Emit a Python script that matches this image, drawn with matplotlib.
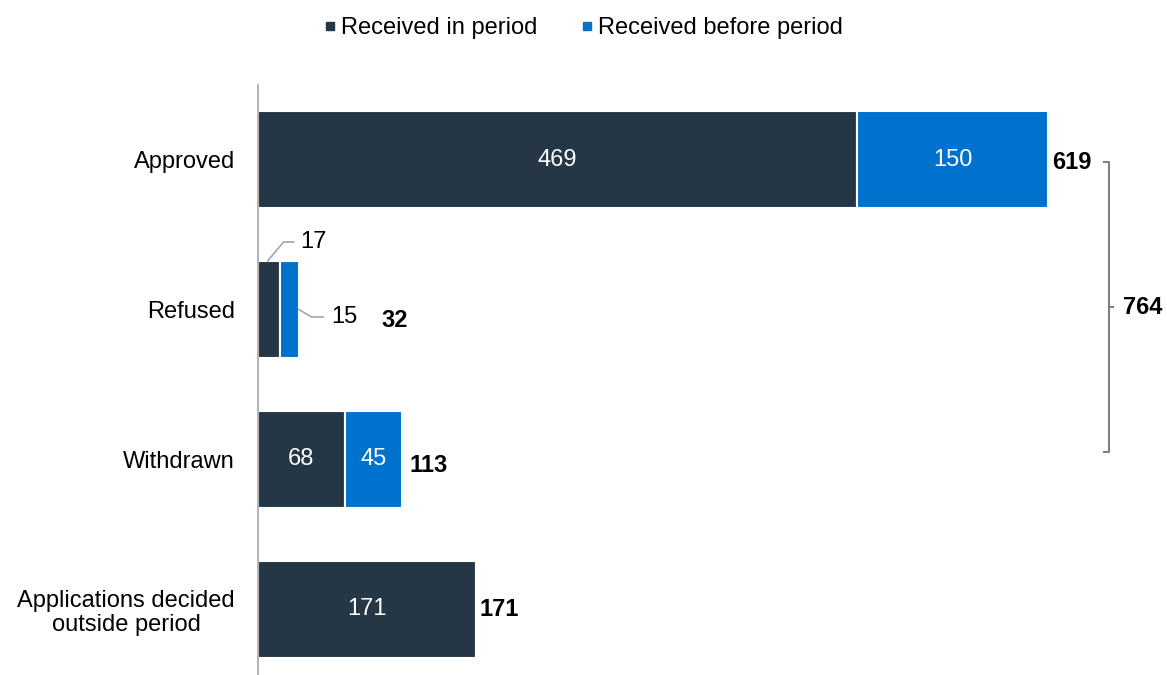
import matplotlib.pyplot as plt
from matplotlib.lines import Line2D
import numpy as np

plt.rcParams['font.family'] = ['Liberation Sans', 'DejaVu Sans']

categories = ["Approved", "Refused", "Withdrawn", "Applications decided\noutside period"]
in_period = [469, 17, 68, 171]
before_period = [150, 15, 45, 0]
totals = [619, 32, 113, 171]
decided_total = 764
series_names = ["Received in period", "Received before period"]

dark = "#253746"
blue = "#0072CE"
FS = 17

W, H = 1167, 675
fig = plt.figure(figsize=(W / 100, H / 100), dpi=100)
ax = fig.add_axes([258 / W, 0, 900 / W, (675 - 85) / H])

y = np.arange(len(categories))
bh = 0.65
ax.barh(y, in_period, height=bh, color=dark, edgecolor="white", linewidth=1.5)
ax.barh(y, before_period, left=in_period, height=bh, color=blue,
        edgecolor="white", linewidth=1.5)

ax.set_xlim(0, 900 / 1.277)
ax.set_ylim(3.437, -0.497)

for s in ["top", "right", "bottom"]:
    ax.spines[s].set_visible(False)
ax.spines["left"].set_color("#A6A6A6")
ax.spines["left"].set_linewidth(1.2)
ax.set_xticks([])
ax.set_yticks(y)
ax.set_yticklabels(categories, fontsize=FS, multialignment="center", linespacing=1.12)
ax.tick_params(axis="y", length=0, pad=16.5)

# values inside the wide segments
for i in range(len(categories)):
    a, b = in_period[i], before_period[i]
    if a >= 40:
        ax.text(a / 2, i, str(a), color="white", fontsize=FS, ha="center", va="center")
    if b >= 40:
        ax.text(a + b / 2, i, str(b), color="white", fontsize=FS, ha="center", va="center")

# leader-line labels for the narrow Refused segments
lc = "#A6A6A6"
ax.plot([in_period[1] * 0.45, 20, 28], [1 - bh / 2, 1 - 0.45, 1 - 0.45],
        color=lc, lw=1.2, clip_on=False)
ax.text(33, 1 - 0.45, str(in_period[1]), fontsize=FS, va="center", ha="left")
ax.plot([totals[1], totals[1] + 10, totals[1] + 19], [1.0, 1.05, 1.05],
        color=lc, lw=1.2, clip_on=False)
ax.text(totals[1] + 25, 1.05, str(before_period[1]), fontsize=FS, va="center", ha="left")

# totals
x_off = [3, 65, 5.5, 2.5]
y_off = [0.02, 0.07, 0.04, 0.0]
for i, t in enumerate(totals):
    ax.text(t + x_off[i], i + y_off[i], str(t), fontsize=FS,
            fontweight="bold", va="center", ha="left")

# bracket over the decided categories
bx = 666.5
top_y, bot_y = 0.017, 1.95
ax.plot([bx - 4, bx, bx, bx - 4], [top_y, top_y, bot_y, bot_y],
        color="#808080", lw=1.5, clip_on=False)
mid = (top_y + bot_y) / 2
ax.plot([bx, bx + 3], [mid, mid], color="#808080", lw=1.5, clip_on=False)
ax.text(bx + 11, mid, str(decided_total), fontsize=FS, fontweight="bold",
        va="center", ha="left")

handles = [Line2D([], [], marker="s", linestyle="", color=c, markersize=5.8)
           for c in (dark, blue)]
fig.legend(handles, series_names, loc="center", bbox_to_anchor=(584 / W, 1 - 28 / H),
           ncol=2, frameon=False, fontsize=FS, handlelength=0.4,
           handletextpad=0.25, columnspacing=1.9, borderaxespad=0, borderpad=0)

fig.savefig("out.png", dpi=100)
